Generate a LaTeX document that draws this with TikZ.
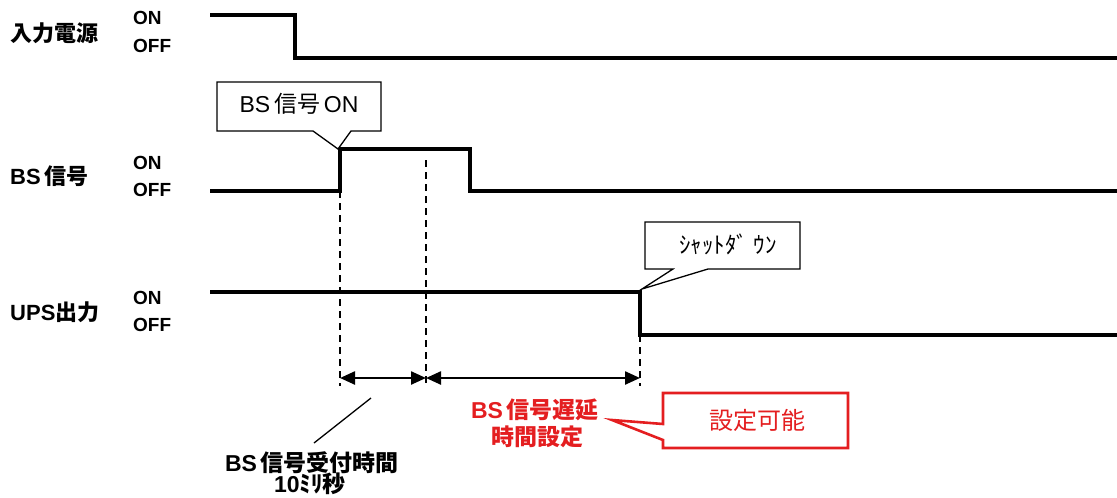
\documentclass[tikz,border=0pt]{standalone}
\usepackage{fontspec}
\setmainfont{Liberation Sans}
\newfontfamily\jpfont{Noto Sans CJK JP}
\newcommand\jpt[1]{{\jpfont #1}}
\usetikzlibrary{arrows.meta}
\definecolor{cred}{RGB}{228,30,32}
\begin{document}
\begin{tikzpicture}[x=1pt,y=-1pt,
  sig/.style={line width=3.3pt, line join=miter},
  lbl/.style={anchor=west, inner sep=0, font=\bfseries\fontsize{22}{24}\selectfont},
  onoff/.style={anchor=west, inner sep=0, font=\bfseries\fontsize{19}{21}\selectfont},
  callout/.style={draw=black, line width=1.3pt, fill=white, line join=miter},
  redcallout/.style={draw=cred, line width=2.6pt, fill=white, line join=miter},
  guide/.style={line width=1.3pt, dash pattern=on 7pt off 5pt},
  span/.style={line width=2.4pt, {Triangle[length=15pt,width=13pt]}-{Triangle[length=15pt,width=13pt]}},
  ctext/.style={inner sep=0, font=\fontsize{23}{24}\selectfont},
  btext/.style={inner sep=0, font=\bfseries\fontsize{23}{24}\selectfont}
]
\useasboundingbox (0,0) rectangle (1117,498);

% labels
\node[lbl] (l1) at (10,33) {\jpt{入力電源}};
\node[lbl] (l2) at (10,176) {BS\,\jpt{信号}};
\node[lbl] (l3) at (10,312) {UPS\jpt{出力}};
\node[onoff] (on1) at (133,18) {ON};
\node[onoff] (off1) at (133,46) {OFF};
\node[onoff] (on2) at (133,163) {ON};
\node[onoff] (off2) at (133,190) {OFF};
\node[onoff] (on3) at (133,298) {ON};
\node[onoff] (off3) at (133,325) {OFF};

% signals
\draw[sig] (210,15) -- (295,15) -- (295,58) -- (1117,58);
\draw[sig] (210,191) -- (340,191) -- (340,149) -- (470,149) -- (470,191) -- (1117,191);
\draw[sig] (210,292) -- (640,292) -- (640,335) -- (1117,335);

% guide lines
\coordinate (g1t) at (340,191);
\coordinate (g1b) at (340,378);
\coordinate (g2t) at (426,160);
\coordinate (g2b) at (426,378);
\coordinate (g3t) at (640,335);
\coordinate (g3b) at (640,378);
\draw[guide] (g1t) -- (340,386);
\draw[guide] (g2t) -- (426,386);
\draw[guide] (g3t) -- (640,386);

% spans
\draw[span] (g1b) -- (g2b);
\draw[span] (g2b) -- (g3b);

% callout BS ON
\draw[callout] (217,82) -- (381,82) -- (381,131) -- (351,131) -- (338,149) -- (313,131) -- (217,131) -- cycle;
\node[ctext] (c1) at (299,104) {BS\,\jpt{信号}\,ON};

% callout shutdown
\draw[callout] (645,222) -- (800,222) -- (800,269) -- (708,269) -- (642,289) -- (673,269) -- (645,269) -- cycle;
\node[ctext] (c2) at (728,244) {\jpt{ｼｬｯﾄﾀﾞ ｳﾝ}};

% red callout
\draw[redcallout] (663,393) -- (848,393) -- (848,448) -- (663,448) -- (663,440) -- (612,420) -- (663,424) -- cycle;
\node[ctext, text=cred, font=\fontsize{24}{24}\selectfont] (c3) at (757,420) {\jpt{設定可能}};

% red text
\node[btext, text=cred] (rt1) at (535,410) {BS\,\jpt{信号遅延}};
\node[btext, text=cred] (rt2) at (537,437) {\jpt{時間設定}};

% bottom text with leader
\node[btext] (bt1) at (312,463) {BS\,\jpt{信号受付時間}};
\node[btext] (bt2) at (310,484) {10\jpt{ﾐﾘ秒}};
\coordinate (ld1) at (371,398);
\coordinate (ld2) at (314,443);
\draw[line width=1.3pt] (ld1) -- (ld2);
\end{tikzpicture}
\end{document}
